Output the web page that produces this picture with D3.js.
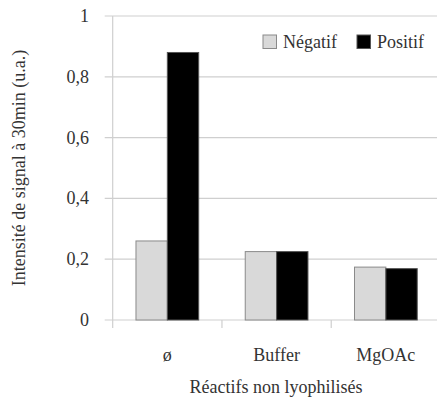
<!DOCTYPE html>
<html><head><meta charset="utf-8">
<script src="https://cdn.jsdelivr.net/npm/d3@7"></script>
<style>
#c, #c text { font: 18px "Liberation Serif"; }
</style>
</head><body style="margin:0"><svg id="c" width="437" height="398"></svg>
<script>
const categories = ["ø", "Buffer", "MgOAc"];
const seriesNames = ["Négatif", "Positif"];
const negatif = [0.26, 0.225, 0.174];
const positif = [0.88, 0.225, 0.169];
const yTicks = [0, 0.2, 0.4, 0.6, 0.8, 1];
const yTickLabels = ["0", "0,2", "0,4", "0,6", "0,8", "1"];
const colors = ["#d9d9d9", "#000000"];
const strokes = ["#8a8a8a", "#555555"];

const svg = d3.select("#c");
const L = 112.7, R = 440.5, T = 16, B = 320;
const x = d3.scaleBand().domain(categories).range([L, R]).paddingInner(0.426).paddingOuter(0.213);
const xs = d3.scaleBand().domain(seriesNames).range([0, x.bandwidth()]);
const y = d3.scaleLinear().domain([0, 1]).range([B, T]);
const data = [negatif, positif];

// gridlines
svg.append("g").selectAll("line").data(yTicks).join("line")
  .attr("x1", L - 8).attr("x2", 437).attr("y1", d => y(d)).attr("y2", d => y(d))
  .attr("stroke", "#cfcfcf").attr("stroke-width", 1.2);
// y axis line
svg.append("line").attr("x1", L).attr("x2", L).attr("y1", T).attr("y2", B + 8)
  .attr("stroke", "#cfcfcf").attr("stroke-width", 1.2);
// category boundary ticks
const bounds = [1, 2, 3].map(i => L + i * (R - L) / 3);
svg.append("g").selectAll("line").data(bounds).join("line")
  .attr("x1", d => d).attr("x2", d => d).attr("y1", B).attr("y2", B + 8)
  .attr("stroke", "#cfcfcf").attr("stroke-width", 1.2);

// y tick labels
svg.append("g").selectAll("text").data(yTicks).join("text")
  .attr("fill", "#333")
  .attr("x", 89).attr("y", d => y(d) + 6).attr("text-anchor", "end")
  .text((d, i) => yTickLabels[i]);

// bars
seriesNames.forEach((s, si) => {
  svg.append("g").selectAll("rect").data(categories).join("rect")
    .attr("x", c => x(c) + xs(s)).attr("width", xs.bandwidth())
    .attr("y", (c, i) => y(data[si][i])).attr("height", (c, i) => B - y(data[si][i]))
    .attr("fill", colors[si]).attr("stroke", strokes[si]).attr("stroke-width", 1);
});

// category labels
svg.append("g").selectAll("text").data(categories).join("text")
  .attr("fill", "#333")
  .attr("x", c => x(c) + x.bandwidth() / 2).attr("y", 361).attr("text-anchor", "middle")
  .text(c => c);

// axis titles
svg.append("text").attr("fill", "#333").attr("x", 276).attr("y", 393).attr("text-anchor", "middle")
  .text("Réactifs non lyophilisés");
svg.append("text").attr("fill", "#333").attr("transform", "translate(25,168) rotate(-90)").attr("text-anchor", "middle")
  .text("Intensité de signal à 30min (u.a.)");

// legend
const legX = [263, 357];
seriesNames.forEach((s, i) => {
  svg.append("rect").attr("x", legX[i]).attr("y", 35).attr("width", 13.5).attr("height", 13.5)
    .attr("fill", colors[i]).attr("stroke", strokes[i]);
  svg.append("text").attr("fill", "#333").attr("x", legX[i] + 20).attr("y", 48).text(s);
});
</script></body></html>
